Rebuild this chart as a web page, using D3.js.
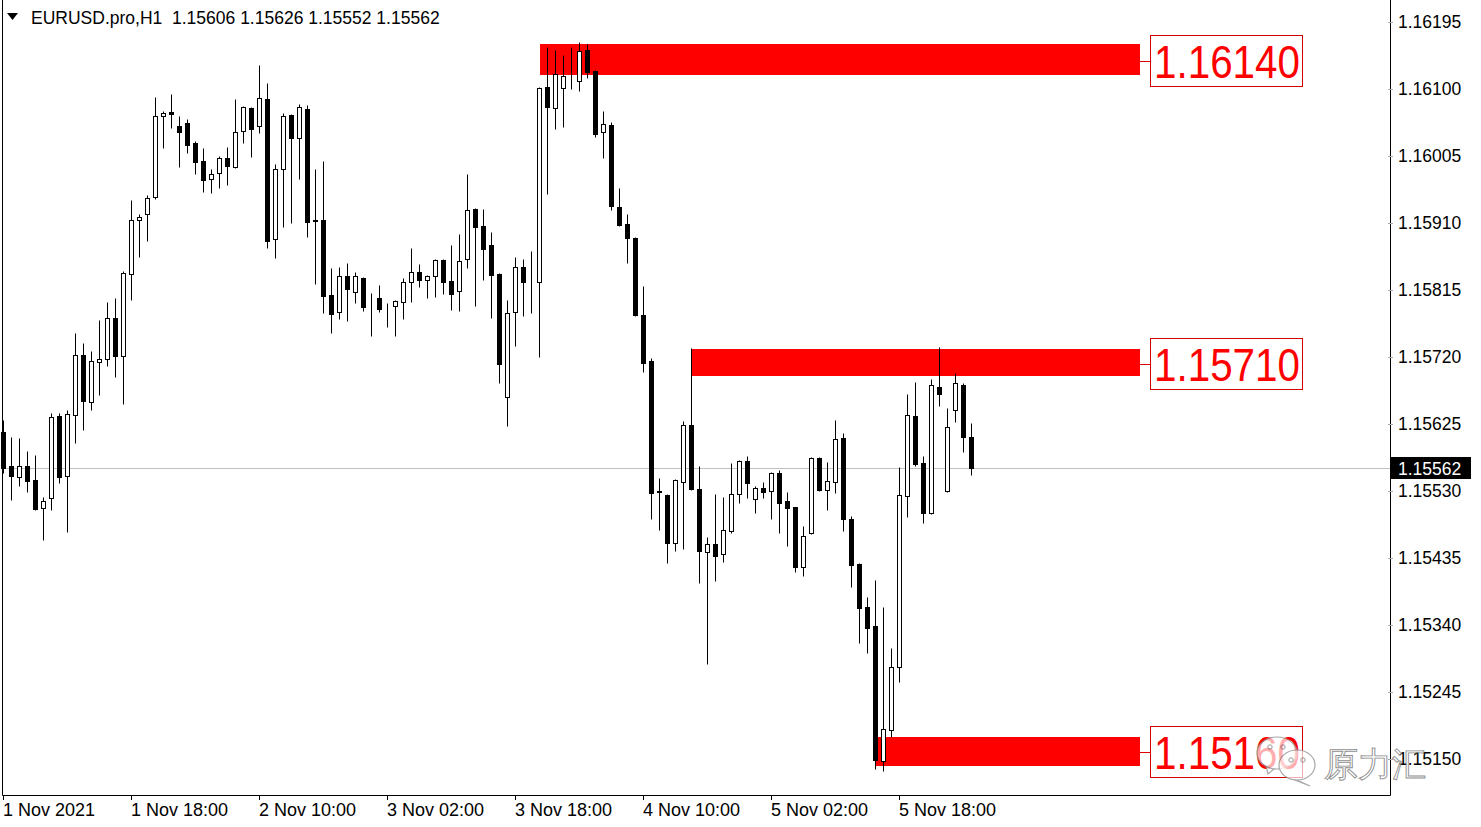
<!DOCTYPE html>
<html>
<head>
<meta charset="utf-8">
<script src="https://cdnjs.cloudflare.com/ajax/libs/d3/7.8.5/d3.min.js"></script>
<style>
  body { margin: 0; background: #fff; }
  svg { display: block; }
  text { font-family: "Liberation Sans", Arial, sans-serif; }
</style>
</head>
<body>
<script>
// ---------------- data ----------------
var symbol = "EURUSD.pro,H1";
var opens = [1.15614,1.15565,1.15550,1.15565,1.15545,1.15506,1.15520,1.15636,1.15551,1.15638,
  1.15723,1.15656,1.15713,1.15717,1.15776,1.15721,1.15837,1.15914,1.15923,1.15947,
  1.16062,1.16067,1.16047,1.16052,1.16023,1.15998,1.15972,1.15981,1.16002,1.15989,
  1.16040,1.16073,1.16047,1.16086,1.15887,1.15986,1.16063,1.16030,1.16071,1.15914,
  1.15914,1.15808,1.15784,1.15835,1.15812,1.15832,1.15784,1.15803,1.15791,1.15792,
  1.15798,1.15826,1.15840,1.15829,1.15835,1.15857,1.15828,1.15813,1.15859,1.15930,
  1.15906,1.15879,1.15837,1.15663,1.15784,1.15847,1.15828,1.15826,1.16103,1.16073,
  1.16101,1.16115,1.16111,1.16155,1.16125,1.16039,1.16049,1.15933,1.15908,1.15889,
  1.15779,1.15714,1.15530,1.15524,1.15456,1.15543,1.15623,1.15533,1.15443,1.15455,
  1.15440,1.15473,1.15526,1.15572,1.15518,1.15534,1.15530,1.15555,1.15516,1.15507,
  1.15422,1.15470,1.15577,1.15531,1.15543,1.15605,1.15491,1.15426,1.15365,1.15338,
  1.15147,1.15191,1.15280,1.15523,1.15636,1.15570,1.15499,1.15677,1.15530,1.15645,
  1.15681,1.15606];
var highs = [1.15631,1.15606,1.15605,1.15587,1.15581,1.15521,1.15640,1.15640,1.15645,1.15754,
  1.15740,1.15728,1.15772,1.15798,1.15803,1.15842,1.15942,1.15923,1.15950,1.16088,
  1.16069,1.16093,1.16062,1.16057,1.16026,1.16016,1.15986,1.16005,1.16018,1.16086,
  1.16076,1.16074,1.16134,1.16108,1.15993,1.16066,1.16064,1.16079,1.16077,1.15986,
  1.15998,1.15846,1.15847,1.15853,1.15840,1.15833,1.15811,1.15822,1.15796,1.15801,
  1.15832,1.15874,1.15852,1.15836,1.15859,1.15859,1.15879,1.15894,1.15979,1.15931,
  1.15930,1.15897,1.15839,1.15801,1.15862,1.15859,1.15871,1.16103,1.16159,1.16155,
  1.16148,1.16159,1.16166,1.16164,1.16127,1.16069,1.16053,1.15959,1.15923,1.15890,
  1.15821,1.15718,1.15548,1.15526,1.15547,1.15629,1.15733,1.15565,1.15465,1.15526,
  1.15521,1.15570,1.15574,1.15579,1.15537,1.15543,1.15557,1.15560,1.15528,1.15508,
  1.15480,1.15578,1.15578,1.15571,1.15631,1.15612,1.15494,1.15428,1.15379,1.15404,
  1.15365,1.15307,1.15564,1.15667,1.15684,1.15579,1.15689,1.15734,1.15647,1.15698,
  1.15683,1.15626];
var lows = [1.15555,1.15517,1.15537,1.15528,1.15503,1.15460,1.15503,1.15541,1.15472,1.15598,
  1.15616,1.15645,1.15666,1.15707,1.15691,1.15653,1.15801,1.15862,1.15884,1.15944,
  1.16016,1.16045,1.15989,1.16009,1.15979,1.15954,1.15952,1.15959,1.15964,1.15988,
  1.16023,1.16003,1.16037,1.15874,1.15860,1.15904,1.15910,1.15972,1.15890,1.15823,
  1.15782,1.15754,1.15774,1.15771,1.15796,1.15785,1.15750,1.15784,1.15762,1.15750,
  1.15774,1.15798,1.15819,1.15803,1.15805,1.15809,1.15787,1.15785,1.15846,1.15792,
  1.15829,1.15775,1.15683,1.15622,1.15735,1.15778,1.15782,1.15720,1.15951,1.16043,
  1.16046,1.16100,1.16097,1.16115,1.16032,1.16002,1.15928,1.15906,1.15853,1.15778,
  1.15699,1.15491,1.15474,1.15428,1.15445,1.15448,1.15531,1.15399,1.15285,1.15402,
  1.15429,1.15470,1.15513,1.15520,1.15499,1.15520,1.15490,1.15470,1.15452,1.15415,
  1.15409,1.15469,1.15530,1.15503,1.15527,1.15473,1.15394,1.15314,1.15300,1.15136,
  1.15133,1.15181,1.15259,1.15493,1.15565,1.15484,1.15497,1.15650,1.15528,1.15628,
  1.15585,1.15552];
var closes = [1.15562,1.15551,1.15565,1.15544,1.15504,1.15516,1.15635,1.15550,1.15639,1.15723,
  1.15657,1.15714,1.15717,1.15776,1.15721,1.15839,1.15914,1.15918,1.15945,1.16062,
  1.16066,1.16064,1.16039,1.16020,1.15996,1.15971,1.15979,1.16002,1.15991,1.16039,
  1.16074,1.16043,1.16087,1.15884,1.15986,1.16062,1.16030,1.16074,1.15911,1.15913,
  1.15806,1.15781,1.15835,1.15816,1.15835,1.15791,1.15784,1.15788,1.15791,1.15799,
  1.15826,1.15840,1.15829,1.15835,1.15857,1.15826,1.15809,1.15856,1.15928,1.15904,
  1.15873,1.15836,1.15710,1.15782,1.15847,1.15826,1.15828,1.16101,1.16074,1.16121,
  1.16118,1.16115,1.16154,1.16124,1.16036,1.16050,1.15934,1.15907,1.15889,1.15779,
  1.15711,1.15527,1.15528,1.15456,1.15545,1.15623,1.15533,1.15445,1.15455,1.15438,
  1.15474,1.15526,1.15572,1.15541,1.15534,1.15528,1.15555,1.15513,1.15506,1.15422,
  1.15466,1.15577,1.15531,1.15544,1.15604,1.15491,1.15425,1.15364,1.15336,1.15148,
  1.15192,1.15280,1.15524,1.15638,1.15568,1.15499,1.15681,1.15667,1.15621,1.15683,
  1.15606,1.15562];

var priceTicks = [1.16195,1.16100,1.16005,1.15910,1.15815,1.15720,1.15625,1.15530,1.15435,1.15340,1.15245,1.15150];
var timeTickIndex = [0,16,32,48,64,80,96,112];
var timeTickLabels = ["1 Nov 2021","1 Nov 18:00","2 Nov 10:00","3 Nov 02:00","3 Nov 18:00","4 Nov 10:00","5 Nov 02:00","5 Nov 18:00"];

// supply / demand zones
var zoneStart = [67, 86, 109];
var zoneEnd = [142, 142, 142];
var zoneTop = [1.16164, 1.15731, 1.15181];
var zoneBottom = [1.16120, 1.15693, 1.15140];
var zoneLabel = [1.16140, 1.15710, 1.15160];

var lastPrice = closes[closes.length - 1];

// ---------------- layout ----------------
var width = 1481, height = 827;
var plotLeft = 2, plotRight = 1390, plotBottom = 795;

var x = d3.scaleLinear().domain([0, 121]).range([3.5, 971.5]);
var y = d3.scaleLinear().domain([1.15150, 1.16195]).range([759, 22]);
function py(v) { return Math.round(y(v)) + 0.5; }

var svg = d3.select("body").append("svg")
  .attr("width", width)
  .attr("height", height);

// frame
svg.append("path")
  .attr("d", "M" + (plotLeft + 0.5) + ",0V" + (plotBottom + 0.5) + "H" + (plotRight + 0.5) + "V0")
  .attr("fill", "none")
  .attr("stroke", "#000")
  .attr("stroke-width", 1);

// zones
var zones = zoneStart.map(function (s, i) {
  return { s: s, e: zoneEnd[i], top: zoneTop[i], bot: zoneBottom[i], label: zoneLabel[i] };
});

svg.append("g").selectAll("rect")
  .data(zones).enter().append("rect")
  .attr("x", function (d) { return Math.round(x(d.s)); })
  .attr("width", function (d) { return Math.round(x(d.e)) - Math.round(x(d.s)); })
  .attr("y", function (d) { return Math.round(y(d.top)); })
  .attr("height", function (d) { return Math.round(y(d.bot)) - Math.round(y(d.top)); })
  .attr("fill", "#ff0000");

// current price line
svg.append("line")
  .attr("x1", plotLeft + 1).attr("x2", plotRight)
  .attr("y1", py(lastPrice)).attr("y2", py(lastPrice))
  .attr("stroke", "#c0c0c0").attr("stroke-width", 1);

// candles
var bars = opens.map(function (o, i) {
  return { i: i, o: o, h: highs[i], l: lows[i], c: closes[i] };
});

var candle = svg.append("g").selectAll("g")
  .data(bars).enter().append("g");

candle.append("line")
  .attr("x1", function (d) { return Math.floor(x(d.i)) + 0.5; })
  .attr("x2", function (d) { return Math.floor(x(d.i)) + 0.5; })
  .attr("y1", function (d) { return py(d.h); })
  .attr("y2", function (d) { return py(d.l); })
  .attr("stroke", "#000")
  .attr("stroke-width", 1);

candle.append("rect")
  .attr("x", function (d) { return Math.floor(x(d.i)) - 1.5; })
  .attr("width", 4)
  .attr("y", function (d) { return py(Math.max(d.o, d.c)); })
  .attr("height", function (d) { return py(Math.min(d.o, d.c)) - py(Math.max(d.o, d.c)); })
  .attr("fill", function (d) { return d.c > d.o ? "#fff" : "#000"; })
  .attr("stroke", "#000")
  .attr("stroke-width", 1);

// right price axis
var yAxis = svg.append("g");
yAxis.selectAll("line")
  .data(priceTicks).enter().append("line")
  .attr("x1", plotRight - 2).attr("x2", plotRight + 3)
  .attr("y1", py).attr("y2", py)
  .attr("stroke", "#aaa");
yAxis.selectAll("text")
  .data(priceTicks).enter().append("text")
  .attr("x", 1398)
  .attr("y", function (d) { return y(d) + 6; })
  .attr("font-size", 17.5)
  .attr("fill", "#000")
  .text(function (d) { return d3.format(".5f")(d); });

// current price tag
svg.append("rect")
  .attr("x", plotRight + 1).attr("y", Math.round(y(lastPrice)) - 11)
  .attr("width", 80).attr("height", 22)
  .attr("fill", "#000");
svg.append("text")
  .attr("x", 1398).attr("y", y(lastPrice) + 6.5)
  .attr("font-size", 17.5)
  .attr("fill", "#fff")
  .text(d3.format(".5f")(lastPrice));

// bottom time axis
var xAxis = svg.append("g");
xAxis.selectAll("line")
  .data(timeTickIndex).enter().append("line")
  .attr("x1", function (d) { return Math.floor(x(d)) + 0.5; })
  .attr("x2", function (d) { return Math.floor(x(d)) + 0.5; })
  .attr("y1", plotBottom).attr("y2", plotBottom + 5)
  .attr("stroke", "#000");
xAxis.selectAll("text")
  .data(timeTickIndex).enter().append("text")
  .attr("x", function (d) { return Math.floor(x(d)); })
  .attr("y", 816)
  .attr("font-size", 18)
  .attr("fill", "#000")
  .text(function (d, i) { return timeTickLabels[i]; });

// zone labels
var lab = svg.append("g").selectAll("g")
  .data(zones).enter().append("g")
  .attr("transform", function (d) { return "translate(0," + Math.round(y(d.label)) + ")"; });
lab.append("line")
  .attr("x1", function (d) { return Math.round(x(d.e)); })
  .attr("x2", 1150)
  .attr("y1", 0.5).attr("y2", 0.5)
  .attr("stroke", "#e00000");
lab.append("rect")
  .attr("x", 1150.5).attr("y", -25.5)
  .attr("width", 152).attr("height", 51)
  .attr("fill", "#fff")
  .attr("stroke", "#d40000")
  .attr("stroke-width", 1);
lab.append("text")
  .attr("x", 1154).attr("y", 16.5)
  .attr("font-size", 46)
  .attr("textLength", 146)
  .attr("lengthAdjust", "spacingAndGlyphs")
  .attr("fill", "#ff0000")
  .text(function (d) { return d3.format(".5f")(d.label); });

// title
svg.append("path")
  .attr("d", "M7,13H18L12.5,20Z")
  .attr("fill", "#000");
svg.append("text")
  .attr("x", 31).attr("y", 24)
  .attr("font-size", 17.5)
  .attr("fill", "#000")
  .style("white-space", "pre")
  .text(symbol + "  " + [opens[121], highs[121], lows[121], closes[121]].map(d3.format(".5f")).join(" "));

// watermark
var wm = svg.append("g").attr("opacity", 0.85);
function bubble(cx, cy, rx, ry, tailX, tailY) {
  wm.append("path")
    .attr("d", "M" + (cx - rx * 0.55) + "," + (cy + ry * 0.8) + "L" + tailX + "," + tailY +
      "L" + (cx - rx * 0.1) + "," + (cy + ry * 0.95))
    .attr("fill", "#fff").attr("stroke", "#999").attr("stroke-width", 1.2);
  wm.append("ellipse")
    .attr("cx", cx).attr("cy", cy).attr("rx", rx).attr("ry", ry)
    .attr("fill", "#fff").attr("fill-opacity", 0.8)
    .attr("stroke", "#999").attr("stroke-width", 1.2);
}
bubble(1277, 753, 20, 16, 1268, 774);
wm.selectAll(".eye1").data([1270, 1283]).enter().append("circle")
  .attr("cx", function (d) { return d; }).attr("cy", 747).attr("r", 2.2)
  .attr("fill", "none").attr("stroke", "#888");
bubble(1297, 765, 18, 15, 1310, 786);
wm.selectAll(".eye2").data([1291, 1303]).enter().append("circle")
  .attr("cx", function (d) { return d; }).attr("cy", 760).attr("r", 2.2)
  .attr("fill", "none").attr("stroke", "#888");
wm.append("text")
  .attr("x", 1324).attr("y", 776)
  .attr("font-family", "'Noto Sans CJK SC', sans-serif")
  .attr("font-weight", 300)
  .attr("font-size", 34)
  .attr("fill", "#fff")
  .attr("fill-opacity", 0.85)
  .attr("stroke", "#7a7a7a")
  .attr("stroke-width", 0.9)
  .text("原力汇");
</script>
</body>
</html>
